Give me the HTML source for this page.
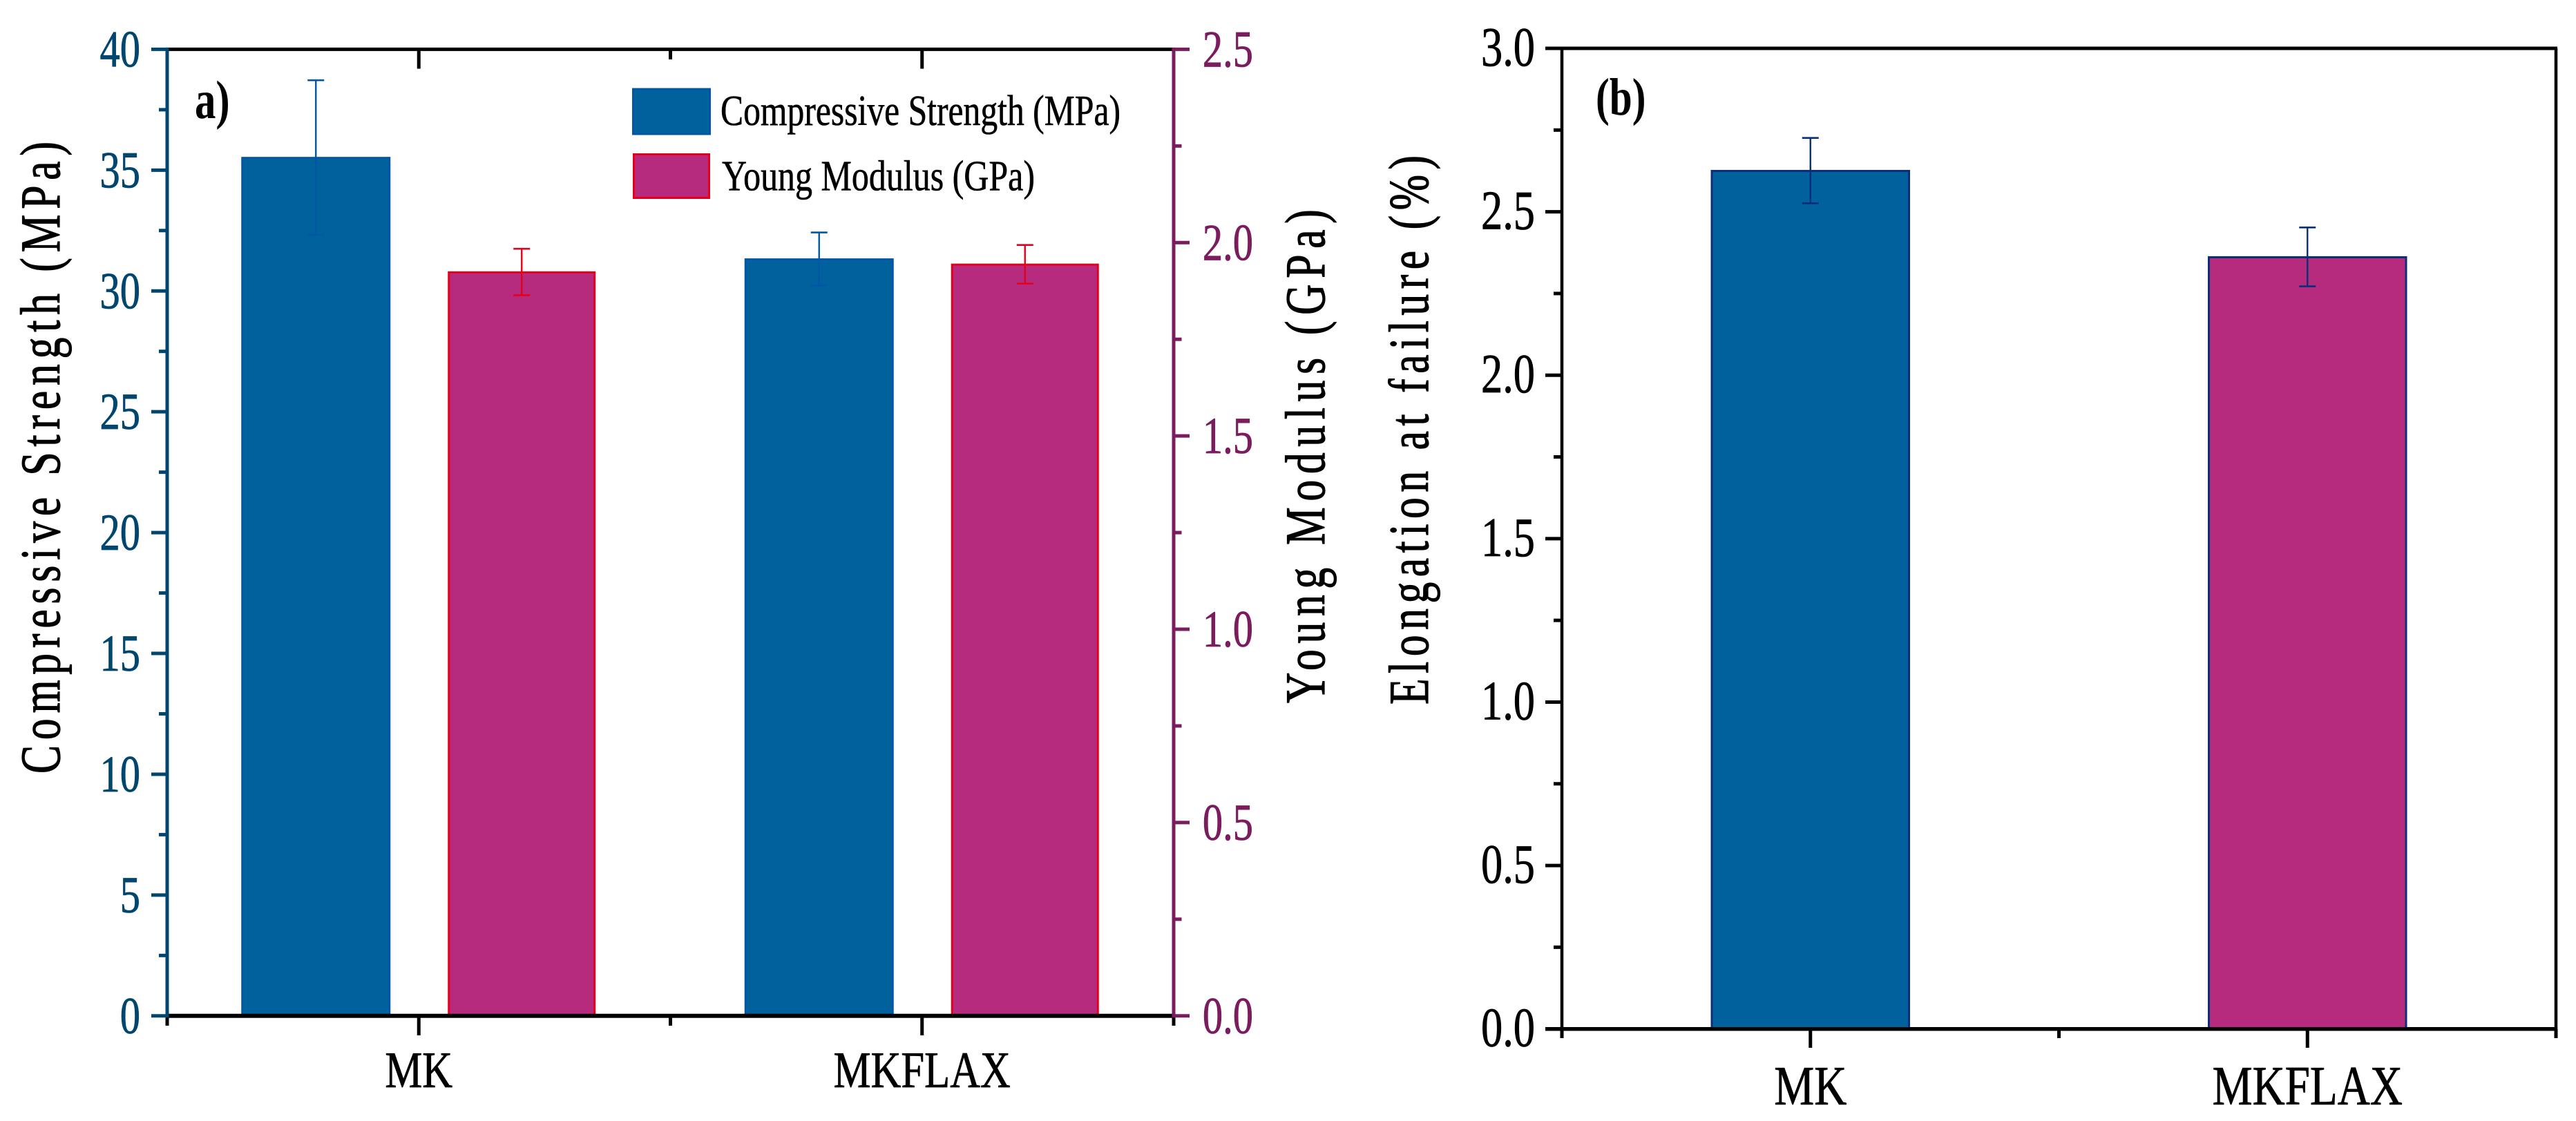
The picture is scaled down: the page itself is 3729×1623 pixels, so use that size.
<!DOCTYPE html>
<html lang="en">
<head>
<meta charset="utf-8">
<title>Compressive strength, Young modulus and elongation at failure</title>
<style>
html,body{margin:0;padding:0;background:#fff;}
svg{display:block;font-family:"Liberation Serif","Times New Roman",serif;}
</style>
</head>
<body>
<svg id="figure" xmlns="http://www.w3.org/2000/svg" width="3729" height="1623" viewBox="0 0 3729 1623">
  <rect x="0" y="0" width="3729" height="1623" fill="#ffffff"/>
  <g id="panelA"></g>
  <g id="panelB"></g>

  <text transform="translate(86,1120) rotate(-90) scale(0.75,1)" font-size="82" textLength="1220" lengthAdjust="spacing" fill="#000" stroke="#000" stroke-width="1.2">Compressive Strength (MPa)</text>
  <text transform="translate(1917,1018) rotate(-90) scale(0.75,1)" font-size="82" textLength="953" lengthAdjust="spacing" fill="#000" stroke="#000" stroke-width="1.2">Young Modulus (GPa)</text>
  <text transform="translate(2067,1020) rotate(-90) scale(0.75,1)" font-size="82" textLength="1060" lengthAdjust="spacing" fill="#000" stroke="#000" stroke-width="1.2">Elongation at failure (%)</text>

  <text transform="translate(282,171) scale(0.78,1)" font-size="78" font-weight="bold" fill="#000">a)</text>
  <text transform="translate(2310,166) scale(0.78,1)" font-size="76" font-weight="bold" fill="#000">(b)</text>

  <g>
    <rect x="916.5" y="129" width="111" height="65" fill="#00619d" stroke="#0057a6" stroke-width="3"/>
    <text x="1043" y="181" font-size="62" textLength="579" lengthAdjust="spacingAndGlyphs" fill="#000" stroke="#000" stroke-width="0.6">Compressive Strength (MPa)</text>
    <rect x="917.5" y="223.5" width="109" height="63" fill="#b72b7f" stroke="#e3001b" stroke-width="3"/>
    <text x="1045" y="275.5" font-size="62" textLength="453" lengthAdjust="spacingAndGlyphs" fill="#000" stroke="#000" stroke-width="0.6">Young Modulus (GPa)</text>
  </g>
</svg>

<script>
// Panel (a) data
const categoriesA = ["MK", "MKFLAX"];
const strengthValues = [35.52, 31.32];
const strengthErrors = [3.2, 1.1];
const modulusValues = [1.924, 1.944];
const modulusErrors = [0.06, 0.05];
const strengthTicks = ["0", "5", "10", "15", "20", "25", "30", "35", "40"];
const modulusTicks = ["0.0", "0.5", "1.0", "1.5", "2.0", "2.5"];

// Panel (b) data
const categoriesB = ["MK", "MKFLAX"];
const elongationValues = [2.626, 2.362];
const elongationErrors = [0.1, 0.09];
const elongationTicks = ["0.0", "0.5", "1.0", "1.5", "2.0", "2.5", "3.0"];

const SVGNS = "http://www.w3.org/2000/svg";

function make(parent, tag, attrs, text) {
  const el = document.createElementNS(SVGNS, tag);
  for (const k in attrs) el.setAttribute(k, attrs[k]);
  if (text !== undefined) el.textContent = text;
  parent.appendChild(el);
  return el;
}
function line(parent, x1, y1, x2, y2, color, width, name) {
  const el = make(parent, "line", {x1: x1, y1: y1, x2: x2, y2: y2, stroke: color, "stroke-width": width});
  
  
  return el;
}
function label(parent, x, y, str, size, sx, anchor, color, name) {
  const el = make(parent, "text", {
    transform: "translate(" + x + "," + y + ") scale(" + sx + ",1)",
    "font-size": size, "text-anchor": anchor, fill: color, stroke: color, "stroke-width": 0.8
  }, str);
  
  
  return el;
}
function bar(parent, cx, outerWidth, value, scale, base, fill, stroke, name) {
  const top = scale(value);
  const el = make(parent, "rect", {
    x: cx - outerWidth / 2 + 1.5, y: top + 0.5,
    width: outerWidth - 3, height: base - top - 0.5,
    fill: fill, stroke: stroke, "stroke-width": 3
  });
  
  
  return el;
}
function errorBar(parent, cx, value, err, scale, color, name) {
  const hi = scale(value + err), lo = scale(value - err);
  line(parent, cx, hi, cx, lo, color, 2.4, name + "-stem");
  line(parent, cx - 12, hi, cx + 12, hi, color, 2.6, name + "-cap-top");
  line(parent, cx - 12, lo, cx + 12, lo, color, 2.6, name + "-cap-bottom");
}

/* ---------- Panel A ---------- */
(function () {
  const g = document.getElementById("panelA");
  const L = 242, R = 1699, T = 71.4, B = 1470.8;
  const BLUE = "#00619d", BLUE_EDGE = "#0057a6", MAG = "#b72b7f", RED = "#e3001b";
  const LEFT_AXIS = "#00466f", RIGHT_AXIS = "#7b1c5e";
  const xA = i => L + (R - L) * (i + 0.5) / categoriesA.length;
  const yS = v => B - (v / 40) * (B - T);
  const yM = v => B - (v / 2.5) * (B - T);
  const offset = 149;

  categoriesA.forEach((c, i) => {
    bar(g, xA(i) - offset, 216, strengthValues[i], yS, B, BLUE, BLUE_EDGE, "strength-bar-" + c.toLowerCase());
    errorBar(g, xA(i) - offset, strengthValues[i], strengthErrors[i], yS, BLUE_EDGE, "strength-error-" + c.toLowerCase());
    bar(g, xA(i) + offset, 214, modulusValues[i], yM, B, MAG, RED, "modulus-bar-" + c.toLowerCase());
    errorBar(g, xA(i) + offset, modulusValues[i], modulusErrors[i], yM, RED, "modulus-error-" + c.toLowerCase());
  });

  // horizontal axes and ticks
  line(g, L, T, R, T, "#000", 5, "top-x-axis-a");
  line(g, L, B, R, B, "#000", 6, "bottom-x-axis-a");
  categoriesA.forEach((c, i) => {
    line(g, xA(i), B, xA(i), 1499, "#000", 5, "x-tick-bottom-" + c.toLowerCase());
    line(g, xA(i), T, xA(i), 99.5, "#000", 5, "x-tick-top-" + c.toLowerCase());
    label(g, xA(i), 1574, c, 74, 0.82, "middle", "#000", "x-label-" + c.toLowerCase());
  });
  for (let i = 0; i <= categoriesA.length; i++) {
    const x = L + (R - L) * i / categoriesA.length;
    line(g, x, B, x, 1485, "#000", 5, "x-minor-tick-bottom");
    if (i > 0 && i < categoriesA.length) line(g, x, T, x, 86, "#000", 5, "x-minor-tick-top");
  }

  // left axis
  line(g, L, T - 2.5, L, B + 2.5, LEFT_AXIS, 5, "left-y-axis");
  strengthTicks.forEach((t, i) => {
    const v = Number(t);
    line(g, 219, yS(v), L, yS(v), LEFT_AXIS, 5, "left-y-tick-" + t);
    label(g, 203, yS(v) + 25, t, 75, 0.78, "end", LEFT_AXIS, "left-y-tick-label-" + t);
    if (i < strengthTicks.length - 1) {
      const m = (v + Number(strengthTicks[i + 1])) / 2;
      line(g, 230, yS(m), L, yS(m), LEFT_AXIS, 5, "left-y-minor-tick");
    }
  });

  // right axis
  line(g, R, T - 2.5, R, B + 2.5, RIGHT_AXIS, 5, "right-y-axis");
  modulusTicks.forEach((t, i) => {
    const v = Number(t);
    line(g, R, yM(v), 1722, yM(v), RIGHT_AXIS, 5, "right-y-tick-" + t);
    label(g, 1814, yM(v) + 25, t, 75, 0.78, "end", RIGHT_AXIS, "right-y-tick-label-" + t);
    if (i < modulusTicks.length - 1) {
      const m = (v + Number(modulusTicks[i + 1])) / 2;
      line(g, R, yM(m), 1710.5, yM(m), RIGHT_AXIS, 5, "right-y-minor-tick");
    }
  });
})();

/* ---------- Panel B ---------- */
(function () {
  const g = document.getElementById("panelB");
  const L = 2261, R = 3700, T = 70, B = 1489.7;
  const EDGE = "#0b2e79";
  const fills = ["#00619d", "#b72b7f"];
  const xB = i => L + (R - L) * (i + 0.5) / categoriesB.length;
  const yE = v => B - (v / 3) * (B - T);

  categoriesB.forEach((c, i) => {
    bar(g, xB(i), 288.5, elongationValues[i], yE, B, fills[i], EDGE, "elongation-bar-" + c.toLowerCase());
    errorBar(g, xB(i), elongationValues[i], elongationErrors[i], yE, EDGE, "elongation-error-" + c.toLowerCase());
  });

  // frame
  line(g, L - 2, T, R + 2, T, "#000", 5, "top-border-b");
  line(g, L, T, L, B, "#000", 4.5, "left-y-axis-b");
  line(g, R, T, R, B, "#000", 4.5, "right-border-b");
  line(g, 2237, B, R + 2, B, "#000", 5.5, "x-axis-b");

  categoriesB.forEach((c, i) => {
    line(g, xB(i), B, xB(i), 1517, "#000", 5, "x-tick-" + c.toLowerCase());
    label(g, xB(i), 1599, c, 80, 0.815, "middle", "#000", "x-label-b-" + c.toLowerCase());
  });
  for (let i = 0; i <= categoriesB.length; i++) {
    const x = L + (R - L) * i / categoriesB.length;
    line(g, x, B, x, 1503, "#000", 5, "x-minor-tick-b");
  }

  elongationTicks.forEach((t, i) => {
    const v = Number(t);
    line(g, 2237, yE(v), L, yE(v), "#000", 5, "y-tick-b-" + t);
    label(g, 2222, yE(v) + 25, t, 80, 0.78, "end", "#000", "y-tick-label-b-" + t);
    if (i < elongationTicks.length - 1) {
      const m = (v + Number(elongationTicks[i + 1])) / 2;
      line(g, 2249, yE(m), L, yE(m), "#000", 5, "y-minor-tick-b");
    }
  });
})();
</script>
</body>
</html>
